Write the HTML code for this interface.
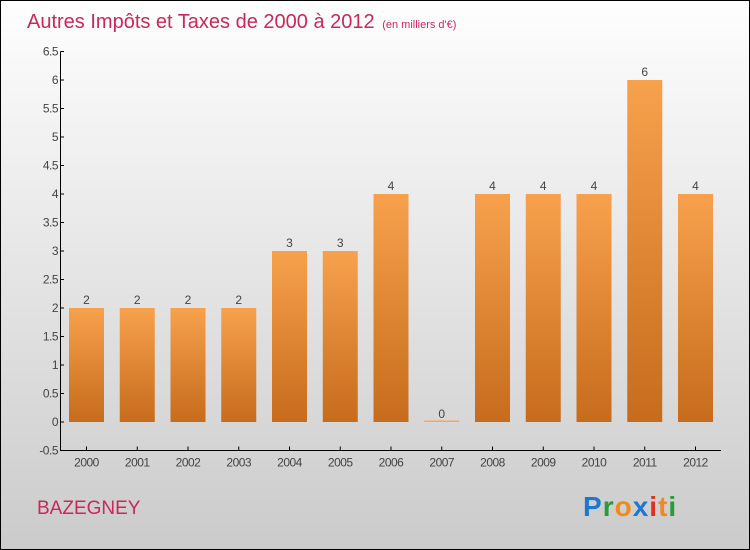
<!DOCTYPE html>
<html><head><meta charset="utf-8"><style>
html,body{margin:0;padding:0}
body{width:750px;height:550px;overflow:hidden;font-family:"Liberation Sans",sans-serif}
#wrap{position:absolute;left:0;top:0;width:748px;height:548px;border:1px solid #000;background:linear-gradient(#fefefe,#cbcbcb)}
</style></head><body>
<div id="wrap">
<svg id="chart" width="748" height="548" style="position:absolute;left:0;top:0">
<defs><linearGradient id="bg" x1="0" y1="0" x2="0" y2="1"><stop offset="0" stop-color="#f8a14d"/><stop offset="1" stop-color="#c66c1c"/></linearGradient></defs>
<text x="26" y="27" font-size="20" fill="#c8285a">Autres Impôts et Taxes de 2000 à 2012 <tspan font-size="11" dx="2">(en milliers d'€)</tspan></text>
<g id="plot"></g>
<text x="36" y="513" font-size="19" fill="#c8285a">BAZEGNEY</text>
<text x="582" y="515" font-size="28" font-weight="bold" letter-spacing="1"><tspan fill="#1e78d2">P</tspan><tspan fill="#2a9a3a">r</tspan><tspan fill="#f08a1a">o</tspan><tspan fill="#1e78d2">x</tspan><tspan fill="#e03020">i</tspan><tspan fill="#f08a1a">t</tspan><tspan fill="#2a9a3a">i</tspan></text>
</svg>
</div>
<script>
const categories=["2000","2001","2002","2003","2004","2005","2006","2007","2008","2009","2010","2011","2012"];
const values=[2,2,2,2,3,3,4,0,4,4,4,6,4];
const yTicks=[-0.5,0,0.5,1,1.5,2,2.5,3,3.5,4,4.5,5,5.5,6,6.5];
const NS="http://www.w3.org/2000/svg";
const g=document.getElementById('plot');
function y(v){return 421-v*57;}
function x(i){return 85.5+i*50.75;}
function mk(t,a){const e=document.createElementNS(NS,t);for(const k in a)e.setAttribute(k,a[k]);g.appendChild(e);return e;}
let ax=mk('line',{x1:59.5,y1:y(6.5),x2:59.5,y2:y(-0.5)+0.5,stroke:'#000'});


let xx=mk('line',{x1:59.5,y1:y(-0.5),x2:720,y2:y(-0.5),stroke:'#000'});


yTicks.forEach(t=>{
 mk('line',{x1:59.5,y1:y(t),x2:63,y2:y(t),stroke:'#000'});
 const tx=mk('text',{x:57,y:y(t)+4,'font-size':12,fill:'#444','text-anchor':'end','letter-spacing':'-0.5'});
 tx.textContent=String(t);
 
 
});
categories.forEach((c,i)=>{
 const cx=x(i),v=values[i];
 mk('line',{x1:cx,y1:y(-0.5),x2:cx,y2:y(-0.5)-4,stroke:'#000'});
 const lt=mk('text',{x:cx,y:y(-0.5)+16,'font-size':12,fill:'#444','text-anchor':'middle','letter-spacing':'-0.5'});
 lt.textContent=c;
 
 
 const h=Math.max(v*57,1.5);
 const b=mk('rect',{x:cx-17.5,y:y(0)-h,width:35,height:h,fill:v>0?'url(#bg)':'#f0a866'});
 
 
 const vt=mk('text',{x:cx,y:y(v)-4,'font-size':12,fill:'#444','text-anchor':'middle'});
 vt.textContent=String(v);
 
 
});
</script>
</body></html>
